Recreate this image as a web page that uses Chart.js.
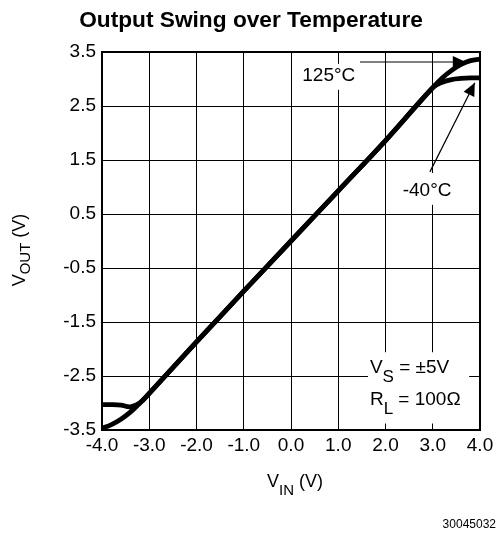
<!DOCTYPE html>
<html>
<head>
<meta charset="utf-8">
<script src="https://cdn.jsdelivr.net/npm/chart.js@4.4.1/dist/chart.umd.min.js"></script>
<style>
  html, body { margin: 0; padding: 0; background: #fff; }
  #wrap { width: 499px; height: 533px; position: relative; }
</style>
</head>
<body>
<div id="wrap"><canvas id="graph"></canvas></div>
<script>
// Values (V_IN in volts)
const vin = [-4.0, -3.8, -3.6, -3.4, -3.2, -3.0, -2.0, -1.0, 0.0, 1.0, 2.0, 3.0, 3.2, 3.4, 3.6, 3.8, 4.0];
const vout125 = [-3.47, -3.40, -3.30, -3.17, -3.00, -2.82, -1.87, -0.93, 0.0, 0.93, 1.86, 2.84, 3.02, 3.16, 3.27, 3.34, 3.37];
const voutMinus40 = [-3.03, -3.03, -3.04, -3.07, -3.00, -2.82, -1.87, -0.93, 0.0, 0.93, 1.86, 2.84, 2.94, 2.99, 3.01, 3.02, 3.02];

const xTicks = [-4, -3, -2, -1, 0, 1, 2, 3, 4];
const yTicks = [-3.5, -2.5, -1.5, -0.5, 0.5, 1.5, 2.5, 3.5];

const FONT = '"Liberation Sans", Arial, Helvetica, sans-serif';

// Annotation anchors in data units
const label125 = { x: 0.80, y: 3.06, box: [0.19, 3.28, 1.46, 2.80], from: [1.46, 3.315], to: [3.70, 3.315] };
const label40 = { x: 2.88, y: 0.93, box: [2.31, 1.26, 3.49, 0.67], from: [2.94, 1.28], to: [3.89, 2.93] };
const condBox = { x: 1.67, y1: -2.44, y2: -3.04, box: [1.63, -2.06, 3.77, -3.38] };

const toPts = ys => vin.map((x, i) => ({ x: x, y: ys[i] }));

function arrowHead(ctx, x0, y0, x1, y1, len, half) {
  const a = Math.atan2(y1 - y0, x1 - x0);
  ctx.beginPath();
  ctx.moveTo(x1, y1);
  ctx.lineTo(x1 - len * Math.cos(a) + half * Math.sin(a), y1 - len * Math.sin(a) - half * Math.cos(a));
  ctx.lineTo(x1 - len * Math.cos(a) - half * Math.sin(a), y1 - len * Math.sin(a) + half * Math.cos(a));
  ctx.closePath();
  ctx.fill();
}

// text with a subscript, returns end x
function subText(ctx, x, y, main, sub, rest, size, subSize, drop) {
  ctx.font = size + 'px ' + FONT;
  ctx.fillText(main, x, y);
  x += ctx.measureText(main).width;
  ctx.font = subSize + 'px ' + FONT;
  ctx.fillText(sub, x, y + drop);
  x += ctx.measureText(sub).width;
  ctx.font = size + 'px ' + FONT;
  ctx.fillText(rest, x, y);
  return x + ctx.measureText(rest).width;
}

const decorations = {
  id: 'decorations',
  beforeDatasetsDraw(chart) {
    const { ctx, scales: { x, y } } = chart;
    ctx.save();
    ctx.fillStyle = '#fff';
    [label125.box, label40.box, condBox.box].forEach(b => {
      const l = x.getPixelForValue(b[0]), t = y.getPixelForValue(b[1]);
      const r = x.getPixelForValue(b[2]), bt = y.getPixelForValue(b[3]);
      ctx.fillRect(l, t, r - l, bt - t);
    });
    ctx.restore();
  },
  afterDatasetsDraw(chart) {
    const { ctx, chartArea: a, scales: { x, y } } = chart;
    ctx.save();
    // frame
    ctx.strokeStyle = '#000';
    ctx.lineWidth = 2;
    ctx.strokeRect(a.left, a.top, a.right - a.left, a.bottom - a.top);

    ctx.fillStyle = '#000';
    ctx.lineWidth = 1.2;
    // 125°C label + leader
    ctx.font = '19px ' + FONT;
    ctx.textAlign = 'center';
    ctx.textBaseline = 'middle';
    ctx.fillText('125°C', x.getPixelForValue(label125.x), y.getPixelForValue(label125.y));
    let x0 = x.getPixelForValue(label125.from[0]), y0 = y.getPixelForValue(label125.from[1]);
    let x1 = x.getPixelForValue(label125.to[0]), y1 = y.getPixelForValue(label125.to[1]);
    ctx.beginPath(); ctx.moveTo(x0, y0); ctx.lineTo(x1, y1); ctx.stroke();
    arrowHead(ctx, x0, y0, x1, y1, 13, 6);

    // -40°C label + leader
    ctx.fillText('-40°C', x.getPixelForValue(label40.x), y.getPixelForValue(label40.y));
    x0 = x.getPixelForValue(label40.from[0]); y0 = y.getPixelForValue(label40.from[1]);
    x1 = x.getPixelForValue(label40.to[0]); y1 = y.getPixelForValue(label40.to[1]);
    ctx.beginPath(); ctx.moveTo(x0, y0); ctx.lineTo(x1, y1); ctx.stroke();
    arrowHead(ctx, x0, y0, x1, y1, 13, 6);

    // test conditions
    ctx.textAlign = 'left';
    ctx.textBaseline = 'alphabetic';
    const cx = x.getPixelForValue(condBox.x);
    subText(ctx, cx, y.getPixelForValue(condBox.y1), 'V', 'S', ' = ±5V', 19, 17, 9);
    subText(ctx, cx, y.getPixelForValue(condBox.y2), 'R', 'L', ' = 100Ω', 19, 17, 9);
    ctx.restore();
  },
  afterDraw(chart) {
    const { ctx, chartArea: a } = chart;
    ctx.save();
    ctx.fillStyle = '#000';
    // title
    ctx.font = 'bold 22.7px ' + FONT;
    ctx.textAlign = 'center';
    ctx.textBaseline = 'alphabetic';
    ctx.fillText('Output Swing over Temperature', 251, 27);

    // x axis title
    ctx.textAlign = 'left';
    ctx.font = '18px ' + FONT;
    const xw = (() => {
      let w = ctx.measureText('V').width + ctx.measureText(' (V)').width;
      ctx.font = '15px ' + FONT;
      return w + ctx.measureText('IN').width;
    })();
    subText(ctx, (a.left + a.right) / 2 - xw / 2 + 4, 487, 'V', 'IN', ' (V)', 18, 15, 8);

    // y axis title
    ctx.translate(25, (a.top + a.bottom) / 2 + 9);
    ctx.rotate(-Math.PI / 2);
    ctx.font = '18px ' + FONT;
    let yw = ctx.measureText('V').width + ctx.measureText(' (V)').width;
    ctx.font = '15px ' + FONT;
    yw += ctx.measureText('OUT').width;
    subText(ctx, -yw / 2, 0, 'V', 'OUT', ' (V)', 18, 15, 5);
    ctx.restore();

    // figure number
    ctx.save();
    ctx.font = '12px ' + FONT;
    ctx.textAlign = 'right';
    ctx.fillStyle = '#000';
    ctx.fillText('30045032', 496, 528);
    ctx.restore();
  }
};

const ctx = document.getElementById('graph').getContext('2d');
const chart = new Chart(ctx, {
  type: 'line',
  data: {
    datasets: [
      { label: '125°C', data: toPts(vout125), borderColor: '#000', borderWidth: 4.8, pointRadius: 0, tension: 0.4, fill: false },
      { label: '-40°C', data: toPts(voutMinus40), borderColor: '#000', borderWidth: 4.8, pointRadius: 0, tension: 0.4, fill: false }
    ]
  },
  options: {
    responsive: true,
    maintainAspectRatio: false,
    animation: false,
    layout: { padding: { top: 52, right: 19, left: 0, bottom: 0 } },
    scales: {
      x: {
        type: 'linear',
        min: -4,
        max: 4,
        afterBuildTicks: s => { s.ticks = xTicks.map(v => ({ value: v })); },
        afterFit: s => { s.height = 103; },
        grid: { color: '#000', lineWidth: 1, drawTicks: false },
        border: { display: false },
        ticks: {
          color: '#000',
          font: { family: FONT, size: 19 },
          padding: 4,
          maxRotation: 0,
          autoSkip: false,
          callback: v => v.toFixed(1)
        }
      },
      y: {
        type: 'linear',
        min: -3.5,
        max: 3.5,
        afterBuildTicks: s => { s.ticks = yTicks.map(v => ({ value: v })); },
        afterFit: s => { s.width = 102; },
        grid: { color: '#000', lineWidth: 1, drawTicks: false },
        border: { display: false },
        ticks: {
          color: '#000',
          font: { family: FONT, size: 19 },
          padding: 6,
          autoSkip: false,
          callback: v => v.toFixed(1)
        }
      }
    },
    plugins: {
      legend: { display: false },
      tooltip: { enabled: false },
      title: { display: false }
    }
  },
  plugins: [decorations]
});
</script>
</body>
</html>
